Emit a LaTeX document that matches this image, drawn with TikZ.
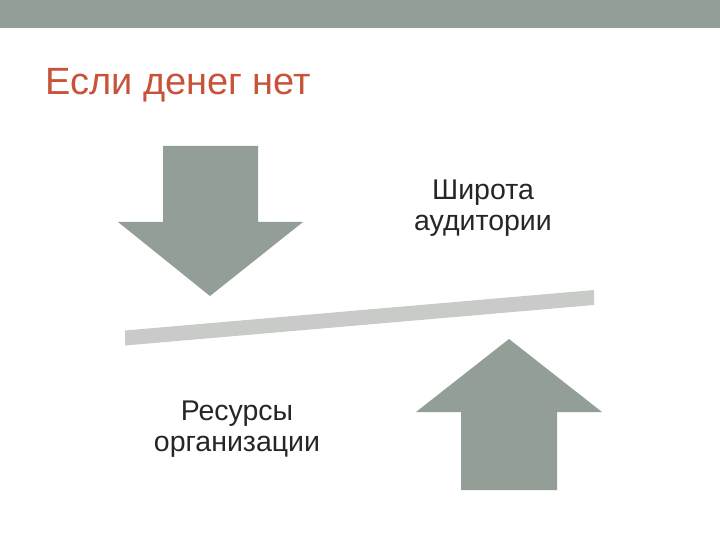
\documentclass[tikz,border=0pt]{standalone}
\usepackage{fontspec}
\setmainfont{Liberation Sans}
\usepackage{tikz}
\usetikzlibrary{positioning,calc}

\definecolor{sage}{RGB}{147,159,150}
\definecolor{beamgray}{RGB}{200,203,200}
\definecolor{titlered}{RGB}{199,84,58}

\tikzset{
  arrowshape/.style={fill=sage,draw=none},
  label text/.style={inner sep=0pt,align=center,font=\fontsize{28.5}{30.5}\selectfont,text=black!85},
}

\begin{document}
\begin{tikzpicture}[x=1pt,y=1pt,yscale=-1,xscale=1]
            \useasboundingbox (0,0) rectangle (720,540);
            % top band
            \fill [sage] (0,0) rectangle (720,28);
            % Title
            \node (title) [anchor=base west,inner sep=0pt,text=titlered,font=\fontsize{38}{44}\selectfont] at (45,95) {Если денег нет};
            % Down arrow
            \fill [arrowshape] (163,146) -- (258,146) -- (258,222) -- (303,222) -- (210,296) -- (118,222) -- (163,222) -- cycle;
            % Beam
            \fill [beamgray] (125,330.5) -- (594,290) -- (594,305) -- (125,345.5) -- cycle;
            % Up arrow
            \fill [arrowshape] (461,490) -- (557,490) -- (557,412) -- (602,412) -- (509,339) -- (416,412) -- (461,412) -- cycle;
            % Text Nodes
            \node (reach) [label text] at (483,208) {Широта\\аудитории};
            \node (resources) [label text] at (237,429) {Ресурсы\\организации};
        \end{tikzpicture}
\end{document}
